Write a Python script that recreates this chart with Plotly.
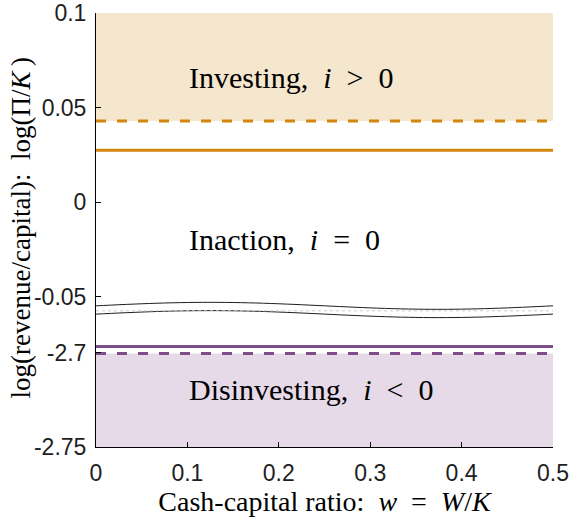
import math
import plotly.graph_objects as go

# ---- data ----
w_range = [0.0, 0.5]                 # cash-capital ratio grid end points
invest_boundary = 0.0429             # dashed orange – investing region starts
invest_line = 0.0274                 # solid orange line
disinvest_line = -2.6968             # solid purple line
disinvest_boundary = -2.7005         # dashed purple – disinvesting region ends
top_max = 0.1
bottom_min = -2.75

top_ticks = [0.1, 0.05, 0, -0.05]
top_ticktext = ["0.1", "0.05", "0", "-0.05"]
bottom_ticks = [-2.7, -2.75]
bottom_ticktext = ["-2.7", "-2.75"]
x_ticks = [0, 0.1, 0.2, 0.3, 0.4, 0.5]
x_ticktext = ["0", "0.1", "0.2", "0.3", "0.4", "0.5"]

labels = ["Investing, &nbsp;<i>i</i> &nbsp;&gt;&nbsp; 0",
          "Inaction, &nbsp;<i>i</i> &nbsp;=&nbsp; 0",
          "Disinvesting, &nbsp;<i>i</i> &nbsp;&lt;&nbsp; 0"]
label_y = [0.066, -0.020, -2.7197]
label_axis = ["y2", "y2", "y"]

ORANGE = "rgb(211,134,12)"
ORANGE_FILL = "rgb(245,230,206)"
PURPLE = "rgb(125,78,138)"
PURPLE_FILL = "rgb(230,218,232)"

SERIF = "Liberation Serif"
SANS = "Liberation Sans"

# axis geometry (break between panels)
top_range = [-0.0570, top_max]
bottom_range = [bottom_min, -2.6774]
split = 0.3161

fig = go.Figure()

# shaded regions
fig.add_trace(go.Scatter(x=[w_range[0], w_range[1], w_range[1], w_range[0]],
                         y=[invest_boundary, invest_boundary, top_max, top_max],
                         fill="toself", fillcolor=ORANGE_FILL, line=dict(width=0),
                         mode="lines", xaxis="x2", yaxis="y2", hoverinfo="skip", showlegend=False))
fig.add_trace(go.Scatter(x=[w_range[0], w_range[1], w_range[1], w_range[0]],
                         y=[bottom_min, bottom_min, disinvest_boundary, disinvest_boundary],
                         fill="toself", fillcolor=PURPLE_FILL, line=dict(width=0),
                         mode="lines", xaxis="x", yaxis="y", hoverinfo="skip", showlegend=False))

# boundary lines
fig.add_trace(go.Scatter(x=w_range, y=[invest_boundary] * 2, mode="lines",
                         line=dict(color=ORANGE, width=3, dash="10px,11px"),
                         xaxis="x2", yaxis="y2", showlegend=False))
fig.add_trace(go.Scatter(x=w_range, y=[invest_line] * 2, mode="lines",
                         line=dict(color=ORANGE, width=3),
                         xaxis="x2", yaxis="y2", showlegend=False))
fig.add_trace(go.Scatter(x=w_range, y=[disinvest_line] * 2, mode="lines",
                         line=dict(color=PURPLE, width=3),
                         xaxis="x", yaxis="y", showlegend=False))
fig.add_trace(go.Scatter(x=w_range, y=[disinvest_boundary] * 2, mode="lines",
                         line=dict(color=PURPLE, width=3, dash="10px,11px"),
                         xaxis="x", yaxis="y", showlegend=False))

# region labels
for t, yy, ax in zip(labels, label_y, label_axis):
    fig.add_annotation(text=t, x=0.1, y=yy, xref="x" if ax == "y" else "x2", yref=ax,
                       xanchor="left", yanchor="middle", showarrow=False,
                       font=dict(family=SERIF, size=30, color="black"))

# axis-break decoration (wavy band)
H = 435.0
def py(p):  # pixel offset from figure top -> paper
    return 1 - (p - 12.5) / H

n = 60
up = []
lo = []
for k in range(n + 1):
    xx = 0.5 * k / n
    s = math.sin(2 * math.pi * xx / 0.5)
    up.append((xx, py(306 - 3.5 * s)))
    lo.append((xx, py(314.3 - 3.5 * s)))
path = "M " + " L ".join(f"{a:.5f},{b:.5f}" for a, b in up)
path += " L " + " L ".join(f"{a:.5f},{b:.5f}" for a, b in reversed(lo)) + " Z"
fig.add_shape(type="path", path=path, xref="x", yref="paper", fillcolor="white",
              line=dict(width=0), layer="above")
fig.add_shape(type="path", path="M " + " L ".join(f"{a:.5f},{b:.5f}" for a, b in up),
              xref="x", yref="paper", line=dict(color="rgb(30,30,30)", width=1), layer="above")
fig.add_shape(type="path", path="M " + " L ".join(f"{a:.5f},{b:.5f}" for a, b in lo),
              xref="x", yref="paper", line=dict(color="rgb(30,30,30)", width=1), layer="above")
fig.add_shape(type="line", x0=0, x1=0.5, y0=py(311), y1=py(311), xref="x", yref="paper",
              line=dict(color="rgb(205,205,205)", width=1, dash="dot"), layer="above")

axis_common = dict(showline=True, linecolor="black", linewidth=1, ticks="inside",
                   ticklen=5, tickcolor="black", showgrid=False, zeroline=False,
                   automargin=False,
                   tickfont=dict(family=SANS, size=23, color="rgb(30,30,30)"))

fig.update_layout(
    template="none",
    width=571, height=521,
    margin=dict(l=96, r=18, t=12.5, b=73.5, autoexpand=False),
    plot_bgcolor="white", paper_bgcolor="white",
    xaxis=dict(range=w_range, domain=[0, 1], anchor="y", tickvals=x_ticks, ticktext=x_ticktext,
               ticklabelstandoff=5,
               title=dict(text="Cash-capital ratio: &nbsp;<i>w</i> &nbsp;=&nbsp; <i>W</i>/<i>K</i>",
                          font=dict(family=SERIF, size=28, color="black"), standoff=2),
               **axis_common),
    xaxis2=dict(range=w_range, domain=[0, 1], anchor="y2", matches="x", visible=False),
    yaxis=dict(range=bottom_range, domain=[0, split], anchor="x", tickvals=bottom_ticks,
               ticktext=bottom_ticktext, ticklabelstandoff=4, **axis_common),
    yaxis2=dict(range=top_range, domain=[split, 1], anchor="x2", tickvals=top_ticks,
                ticktext=top_ticktext, ticklabelstandoff=4, **axis_common),
)

fig.add_annotation(text="log(revenue/capital): &nbsp;log(Π/<i>K</i>\u2009)", x=-0.165, y=0.505,
                   xref="paper", yref="paper", textangle=-90, showarrow=False,
                   xanchor="center", yanchor="middle",
                   font=dict(family=SERIF, size=27, color="black"))

fig.write_html("out.html")
